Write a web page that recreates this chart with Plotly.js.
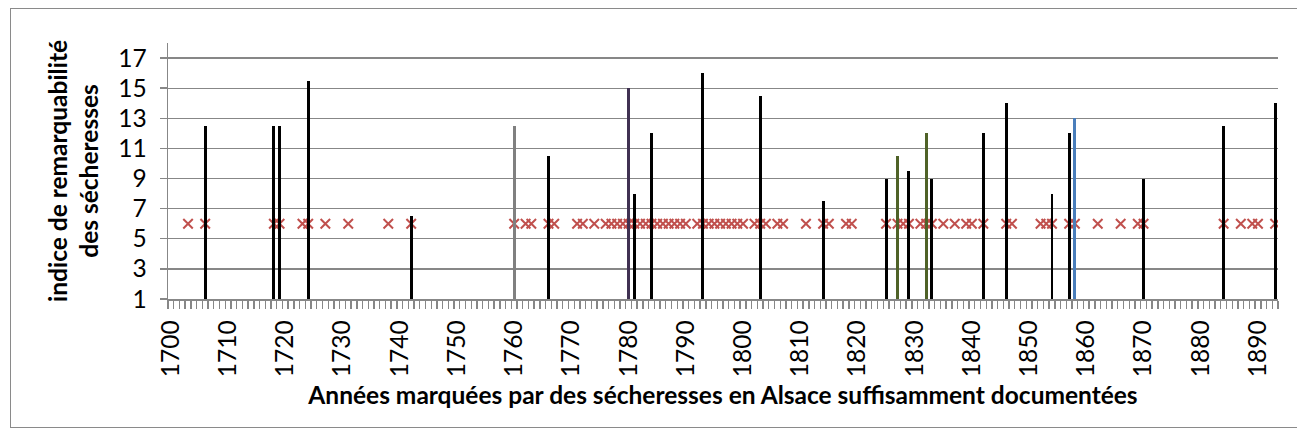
<!DOCTYPE html>
<html>
<head>
<meta charset="utf-8">
<script src="https://cdn.plot.ly/plotly-3.0.1.min.js"></script>
<style>
  html, body { margin: 0; padding: 0; background: #ffffff; }
  #chart { width: 1297px; height: 438px; position: absolute; left: 0; top: 0; }
  #frame { position: absolute; left: 10px; top: 8px; width: 1300px; height: 418px;
           border: 1px solid #8a8a8a; pointer-events: none; }
</style>
</head>
<body>
<div id="chart"></div>
<div id="frame"></div>
<script>
// Drought years with a remarkability index (vertical bars)
const barYears  = [1706, 1718, 1719, 1724, 1742, 1760, 1766, 1780, 1781, 1784, 1793, 1803, 1814,
                   1825, 1827, 1829, 1832, 1833, 1842, 1846, 1854, 1857, 1858, 1870, 1884, 1893];
const barValues = [12.5, 12.5, 12.5, 15.5, 6.5, 12.5, 10.5, 15, 8, 12, 16, 14.5, 7.5,
                   9, 10.5, 9.5, 12, 9, 12, 14, 8, 12, 13, 9, 12.5, 14];

// Years marked by sufficiently documented droughts in Alsace (red crosses)
const markYears = [1703, 1706, 1718, 1719, 1723, 1724, 1727, 1731, 1738, 1742,
                   1760, 1762, 1763, 1766, 1767, 1771, 1772, 1774,
                   1776, 1777, 1778, 1779, 1780, 1781, 1782, 1783, 1784, 1785, 1786, 1787, 1788, 1789, 1790,
                   1792, 1793, 1794, 1795, 1796, 1797, 1798, 1799, 1800,
                   1802, 1803, 1804, 1806, 1807, 1811, 1814, 1815, 1818, 1819,
                   1825, 1827, 1828, 1829, 1831, 1832, 1833, 1835, 1837, 1839, 1840, 1842,
                   1846, 1847, 1852, 1853, 1854, 1857, 1858, 1862, 1866, 1869, 1870,
                   1884, 1887, 1889, 1890, 1893];
const markLevel = 6;

// Axis tick labels
const yTicks = [1, 3, 5, 7, 9, 11, 13, 15, 17];
const xTickYears = [1700, 1710, 1720, 1730, 1740, 1750, 1760, 1770, 1780, 1790,
                    1800, 1810, 1820, 1830, 1840, 1850, 1860, 1870, 1880, 1890];

// Special bar colours (others black)
const specialColors = {1760: '#808080', 1780: '#403152', 1827: '#4f6228', 1832: '#4f6228', 1858: '#4a7ebb'};
const barColors = barYears.map(y => specialColors[y] || '#000000');

const FONT = 'Lato, "Open Sans", sans-serif';
const xRange = [1699.5, 1893.5];

const traces = [
  {
    type: 'scatter', mode: 'markers',
    x: markYears, y: markYears.map(() => markLevel),
    xaxis: 'x', yaxis: 'y',
    marker: { symbol: 'x-thin', size: 9.5, color: '#c0504d', line: { color: '#c0504d', width: 2 } },
    hoverinfo: 'x', showlegend: false
  },
  {
    type: 'bar',
    x: barYears, y: barValues,
    xaxis: 'x2', yaxis: 'y',
    width: 0.52,
    marker: { color: barColors, line: { width: 0 } },
    hoverinfo: 'x+y', showlegend: false
  }
];

const axisGray = '#878787';

const layout = {
  width: 1297, height: 438,
  margin: { l: 168, r: 19, t: 43, b: 139 },
  paper_bgcolor: '#ffffff', plot_bgcolor: '#ffffff',
  font: { family: FONT, color: '#000000' },
  showlegend: false,
  bargap: 0,
  xaxis: {
    type: 'linear', range: xRange, fixedrange: true,
    tickmode: 'array', tickvals: xTickYears, ticktext: xTickYears.map(String),
    tickangle: -90, ticks: '', ticklabelstandoff: 10,
    tickfont: { family: FONT, size: 24.5, color: '#000000' },
    showgrid: false, zeroline: false,
    showline: true, linecolor: axisGray, linewidth: 1.5,
    minor: { tick0: 1699.5, dtick: 1, ticks: 'outside', ticklen: 8, tickwidth: 1.4, tickcolor: axisGray, showgrid: false },
    title: { text: 'Années marquées par des sécheresses en Alsace suffisamment documentées',
             font: { family: FONT, size: 24.5, weight: 700, color: '#000000' }, standoff: 10 }
  },
  xaxis2: {
    type: 'linear', range: xRange, overlaying: 'x', visible: false, fixedrange: true
  },
  yaxis: {
    range: [1, 18], fixedrange: true,
    tickmode: 'array', tickvals: yTicks, ticktext: yTicks.map(String),
    ticks: 'outside', ticklen: 7, tickwidth: 1.4, tickcolor: axisGray,
    tickfont: { family: FONT, size: 24.5, color: '#000000' },
    ticklabelstandoff: 8,
    showgrid: true, gridcolor: axisGray, gridwidth: 1.3,
    zeroline: false, showline: true, linecolor: axisGray, linewidth: 1.5,
    title: { text: 'indice de remarquabilité<br>des sécheresses',
             font: { family: FONT, size: 24.5, weight: 700, color: '#000000' }, standoff: 12 }
  }
};

Plotly.newPlot('chart', traces, layout, { displayModeBar: false, staticPlot: true });
</script>
</body>
</html>
